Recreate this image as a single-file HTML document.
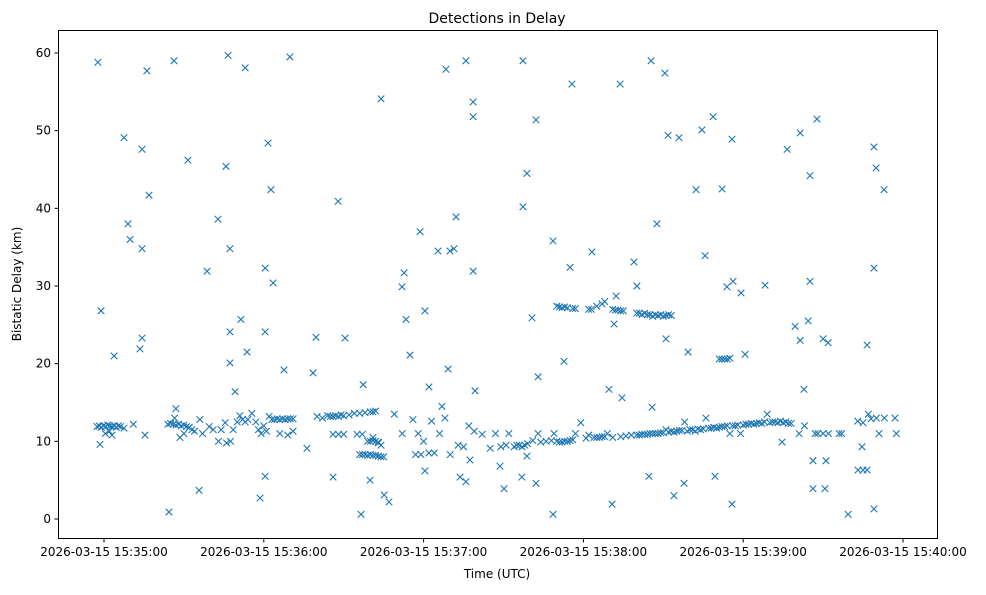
<!DOCTYPE html>
<html><head><meta charset="utf-8">
<style>
body{margin:0;background:#fff;font-family:"Liberation Sans","DejaVu Sans",sans-serif;}
svg text{font-family:"DejaVu Sans","Liberation Sans",sans-serif;fill:#000;}
</style></head>
<body>
<svg id="chart" width="986" height="590" viewBox="0 0 986 590" xmlns="http://www.w3.org/2000/svg">
<rect x="0" y="0" width="986" height="590" fill="#fff"/>
<text x="497" y="23" text-anchor="middle" font-size="14">Detections in Delay</text>
<text x="497" y="578" text-anchor="middle" font-size="12">Time (UTC)</text>
<text transform="translate(21,284) rotate(-90)" text-anchor="middle" font-size="12">Bistatic Delay (km)</text>
<g id="marks"></g>
<g id="axes"></g>
<rect x="58.5" y="30.5" width="879" height="508" fill="none" stroke="#000" stroke-width="1"/>
</svg>
<script>
// seconds after 15:35:00 UTC
const times = [-2.3,-1.1,3.8,7.5,9.0,9.8,14.3,16.1,14.3,14.3,13.5,16.9,15.4,24.4,26.3,31.5,35.7,38.7,42.8,45.8,46.6,47.3,47.3,47.3,49.2,51.4,53.0,53.7,58.6,60.5,60.5,61.6,60.5,62.7,63.5,67.6,69.8,76.2,78.5,79.6,86.0,87.9,90.5,96.5,97.3,99.9,104.0,105.2,107.0,111.9,112.7,113.4,114.9,118.7,120.5,120.5,122.0,126.9,125.4,128.4,129.2,129.9,131.4,132.2,133.7,135.9,135.9,137.4,138.6,138.6,138.6,139.3,148.7,150.2,156.9,157.3,157.3,158.8,158.8,160.7,162.2,162.2,163.0,168.6,168.6,172.7,175.0,175.7,183.2,189.6,190.8,193.8,191.5,192.3,194.5,199.0,200.1,204.6,205.4,205.8,207.6,210.6,211.0,211.8,214.0,215.9,217.8,219.3,222.3,225.7,224.5,228.7,229.4,232.1,233.9,235.8,235.8,236.2,239.2,240.7,248.2,256.5,259.5,261.4,261.4,262.8,264.4,265.1,265.1,266.2,266.2,267.7,270.0,271.1,270.7,271.9,279.4,283.1,285.0,286.5,284.6,286.5,289.1,289.9,289.1,289.1,292.9,254.6,
-2.6,-1.8,-1,-0.2,0.6,1.4,2.2,3,3.8,4.6,5.4,6.2,7.5,-1.5,0.5,2,11,3,
24,25,26,27,28,29,30,31,32,33,34,26.5,27,28.5,30,36,37,39.5,41,43,44,45.5,46,47.5,48.5,50,51,52,53,54,55.5,57,58,59,60,61,62,
63,64,65,66,67,68,69,70,71,66,69,71,
80,82,84,85,86,87,88,89,90,92,94,96,98,100,101,102,86,88,90,95,97,101,
96,97,98,99,100,101,102,103,99,100,101,102,103,104,105,103,104,
109,112,116,117,118,119,120,122,123,124,126,128,130,133,135,137,139,142,145,147,149,151,152,154,155,156,157,158,159,161,163,164,166,168,169,170,171,172,173,174,175,176,177,179,181,182,184,185,186,187,188,189,191,194,196,198,200,201,202,203,204,205,206,207,208,209,210,211,212,213,214,215,216,217,218,219,220,221,222,223,224,225,226,227,228,229,230,231,232,233,234,235,236,237,238,239,240,241,242,243,244,245,246,247,248,249,250,251,252,253,254,255,256,257,258,261,263,267,268,270,272,276,277,283,285,287,288,290,291,293,297,297.5,
170,171,172,173,174,176,177,182,183,185,187,188,191,192,193,194,195,200,201,202,203,204,205,206,207,208,209,210,211,212,213,
231,232,233,234,235];
const delays = [58.8,26.8,21.0,49.1,38.0,36.0,47.6,57.7,34.8,23.3,21.9,41.7,10.8,0.9,59.0,46.2,3.7,31.9,38.6,45.4,59.7,34.8,24.1,20.1,16.4,25.7,58.1,21.5,2.7,24.1,32.3,48.4,5.5,42.4,30.4,19.2,59.5,9.1,18.8,23.4,5.4,40.9,23.3,0.6,17.3,5.0,54.1,3.1,2.2,29.9,31.7,25.7,21.1,37.0,26.8,6.2,17.0,14.5,34.5,57.9,19.3,34.5,34.8,38.9,5.4,59.0,4.8,7.6,53.7,51.8,31.9,16.5,6.8,3.9,5.4,59.0,40.2,44.5,8.1,25.9,4.6,51.4,18.3,0.6,35.8,20.3,32.4,56.0,34.4,16.7,1.9,56.0,25.1,28.7,15.6,33.1,30.0,5.5,59.0,14.4,38.0,57.4,23.2,49.4,3.0,49.1,4.6,21.5,42.4,33.9,50.1,51.8,5.5,42.5,29.9,48.9,1.9,30.6,29.1,21.2,30.1,47.6,24.8,49.7,23.0,16.7,25.5,44.2,30.6,7.5,3.9,51.5,23.2,7.5,3.9,22.7,0.6,6.3,6.3,6.3,9.3,22.4,47.9,45.2,32.3,1.3,42.4,9.9,
11.9,12.0,11.8,12.0,11.9,12.1,12.0,11.9,12.0,11.8,12.0,11.9,11.7,9.6,11.0,11.3,12.2,10.8,
12.2,12.3,12.2,12.1,12.2,12.0,12.1,11.9,11.8,11.5,11.3,13.0,14.2,10.5,11.0,12.8,11.0,11.9,11.5,10.0,11.5,12.4,9.8,10.0,11.5,12.5,13.3,12.8,12.5,12.8,13.6,12.5,11.5,11.0,12.0,11.3,13.2,
12.8,12.8,12.9,12.8,12.9,12.8,12.9,12.9,12.9,11.0,10.8,11.3,
13.2,13.0,13.3,13.2,13.2,13.3,13.2,13.4,13.3,13.4,13.6,13.6,13.7,13.8,13.8,13.9,10.9,10.9,10.9,10.9,10.9,10.5,
8.3,8.3,8.3,8.2,8.3,8.2,8.2,8.1,10.0,10.0,10.1,10.0,9.9,8.0,8.0,9.8,9.5,
13.5,11.0,12.8,8.3,11.0,8.3,10.0,8.5,12.6,8.5,11.0,13.0,8.3,9.5,9.3,12.0,11.3,10.9,9.1,11.0,9.3,9.5,11.0,9.3,9.5,9.5,9.3,9.5,9.7,10.1,11.0,9.9,10.0,10.1,11.0,10.0,9.9,9.9,10.0,10.0,10.1,10.2,11.0,12.4,10.4,10.8,10.5,10.5,10.5,10.6,10.6,11.0,10.5,10.6,10.7,10.8,10.8,10.8,10.9,10.9,10.9,11.0,11.0,11.0,11.0,11.1,11.1,11.5,11.2,11.3,11.2,11.3,11.4,11.4,12.5,11.3,11.5,11.5,11.3,11.6,11.5,11.6,13.0,11.7,11.7,11.8,11.7,11.8,11.9,11.9,12.0,11.0,12.0,12.0,12.1,11.0,12.1,12.2,12.2,12.3,12.2,12.3,12.4,12.3,12.5,13.5,12.4,12.5,12.5,12.4,12.6,12.4,12.5,12.3,12.3,11.0,12.0,11.0,11.0,11.0,11.0,11.0,11.0,12.6,12.4,13.5,12.9,13.0,11.0,13.0,13.0,11.0,
27.4,27.3,27.2,27.3,27.2,27.1,27.1,27.0,27.0,27.4,27.7,28.0,27.0,26.9,26.9,26.8,26.8,26.5,26.5,26.3,26.5,26.3,26.3,26.1,26.3,26.2,26.3,26.1,26.2,26.3,26.2,
20.6,20.6,20.6,20.6,20.7];
const xTickSecs = [0,60,120,180,240,300];
const xTickLabels = ["2026-03-15 15:35:00","2026-03-15 15:36:00","2026-03-15 15:37:00","2026-03-15 15:38:00","2026-03-15 15:39:00","2026-03-15 15:40:00"];
const yTicks = [0,10,20,30,40,50,60];

const NS="http://www.w3.org/2000/svg";
function xs(s){return 104+s*(799/300);}
function ys(d){return 519-d*(466/60);}
const marks=document.getElementById('marks');
for(let i=0;i<times.length;i++){
  const x=xs(times[i]), y=ys(delays[i]), r=3.3;
  const p=document.createElementNS(NS,'path');
  p.setAttribute('d',`M${x-r},${y-r}L${x+r},${y+r}M${x-r},${y+r}L${x+r},${y-r}`);
  p.setAttribute('stroke','#1f77b4');p.setAttribute('stroke-width','1.1');p.setAttribute('fill','none');
  
  
  marks.appendChild(p);
}
const axes=document.getElementById('axes');
xTickSecs.forEach((s,i)=>{
  const x=xs(s);
  const l=document.createElementNS(NS,'line');
  l.setAttribute('x1',x);l.setAttribute('x2',x);l.setAttribute('y1',538.5);l.setAttribute('y2',542.5);l.setAttribute('stroke','#000');
  
  
  axes.appendChild(l);
  const t=document.createElementNS(NS,'text');
  t.setAttribute('x',x);t.setAttribute('y',556);t.setAttribute('text-anchor','middle');t.setAttribute('font-size','12');
  t.textContent=xTickLabels[i];
  
  
  axes.appendChild(t);
});
yTicks.forEach(v=>{
  const y=ys(v);
  const l=document.createElementNS(NS,'line');
  l.setAttribute('x1',54.5);l.setAttribute('x2',58.5);l.setAttribute('y1',y);l.setAttribute('y2',y);l.setAttribute('stroke','#000');
  
  
  axes.appendChild(l);
  const t=document.createElementNS(NS,'text');
  t.setAttribute('x',51);t.setAttribute('y',y+4);t.setAttribute('text-anchor','end');t.setAttribute('font-size','12');
  t.textContent=String(v);
  
  
  axes.appendChild(t);
});
</script>
</body></html>
